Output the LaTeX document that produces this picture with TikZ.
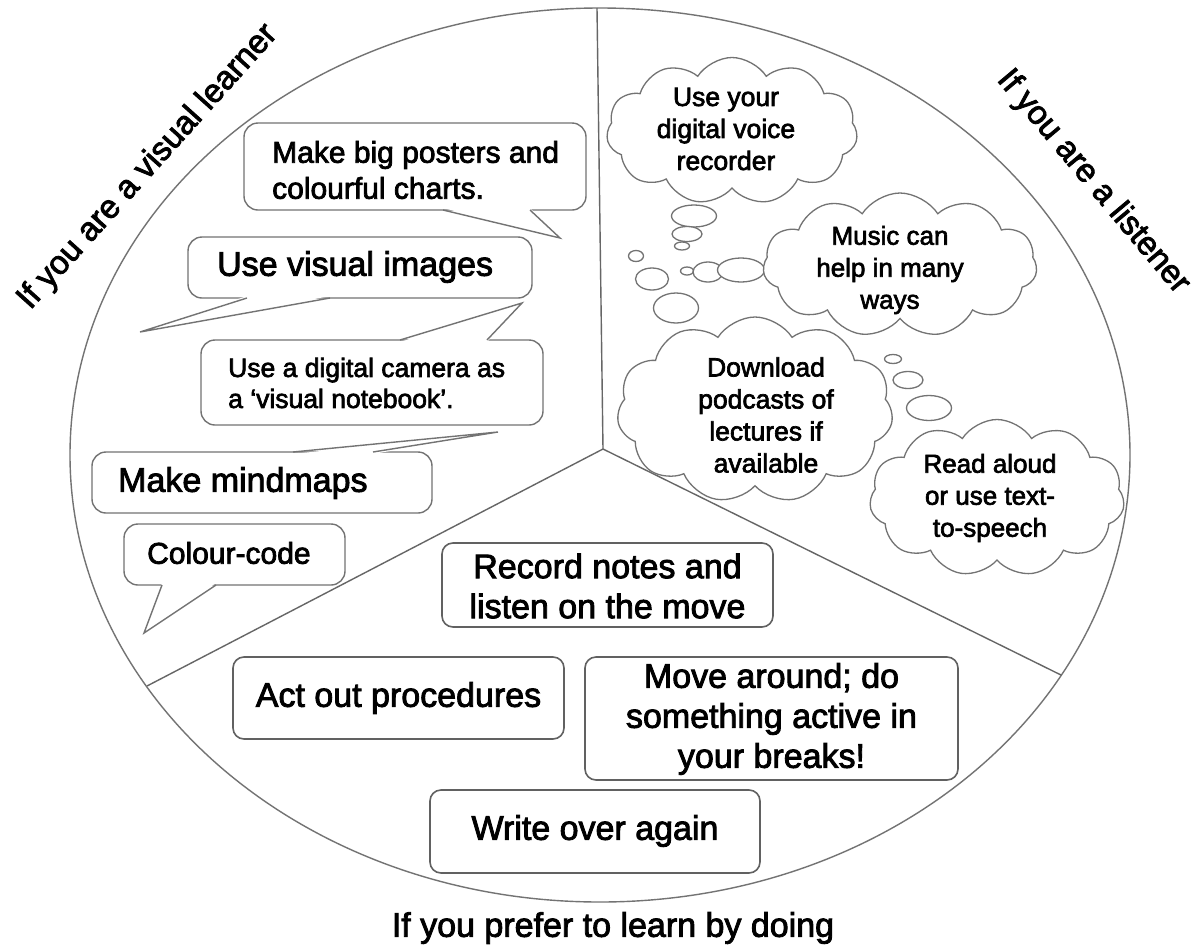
\documentclass[tikz,border=0pt]{standalone}
\usepackage{fontspec}
\setmainfont{Liberation Sans}[FakeBold=2.5]
\usetikzlibrary{shapes.symbols}
\newcommand\myfs[2]{\fontsize{#1}{#2}\selectfont}
\tikzset{
  outl/.style={draw=black!55, line width=1.4pt},
  divl/.style={draw=black!60, line width=1.4pt},
  bub/.style={outl, fill=white, rounded corners=14pt},
  rbox/.style={draw=black!62, line width=1.6pt, rounded corners=11pt, fill=white},
  txt/.style={inner sep=0pt, text=black},
  cld/.style={cloud, cloud puffs=11, cloud puff arc=115, draw=black!55, line width=1.3pt,
              fill=white, inner sep=0pt},
  ctxt/.style={inner sep=0pt, text=black, align=center},
  lbl/.style={inner sep=0pt, text=black, font=\myfs{33}{40}},
  puff/.style={draw=black!55, line width=1.3pt, fill=white}
}
\newcommand\bubbot[7]{%
  \draw[bub] (#1,#2) rectangle (#3,#4);
  \fill[white] (#5,#4-2) -- #7 -- (#6,#4-2) -- cycle;
  \draw[outl] (#5,#4) -- #7 -- (#6,#4);
}
\newcommand\bubtop[7]{%
  \draw[bub] (#1,#2) rectangle (#3,#4);
  \fill[white] (#5,#2+2) -- #7 -- (#6,#2+2) -- cycle;
  \draw[outl] (#5,#2) -- #7 -- (#6,#2);
}
\begin{document}
\begin{tikzpicture}[x=1pt,y=-1pt]
\useasboundingbox (0,0) rectangle (1203,946);
\fill[white] (0,0) rectangle (1203,946);

% pie
\draw[outl] (600,455) ellipse [x radius=530pt, y radius=447pt];
\coordinate (hub) at (603,449);
\coordinate (topp) at (597,8);
\coordinate (lft) at (147,686);
\coordinate (rgt) at (1061,675);
\draw[divl] (topp) -- (hub) -- (lft);
\draw[divl] (hub) -- (rgt);

% labels
\node[lbl, rotate=48] (vis) at (148,167) {If you are a visual learner};
\node[lbl, rotate=-50] (lis) at (1093,182) {If you are a listener};
\node[lbl, font=\myfs{34}{40}] (doing) at (613,928) {If you prefer to learn by doing};

% speech bubbles (visual)
\bubbot{244}{123}{586}{210}{443}{530}{(560,238)}
\node[txt, anchor=west, align=left, font=\myfs{30}{36}] (t1) at (272,170) {Make big posters and\\colourful charts.};

\bubbot{188}{237}{532}{298}{247}{330}{(140,332)}
\node[txt, anchor=west, font=\myfs{34}{40}] (t2) at (217,267) {Use visual images};

\bubtop{201}{340}{543}{425}{400}{487}{(522,303)}
\node[txt, anchor=west, align=left, font=\myfs{26.5}{31}] (t3) at (228,383) {Use a digital camera as\\a ‘visual notebook’.};

\bubtop{92}{452}{432}{513}{293}{373}{(498,432)}
\node[txt, anchor=west, font=\myfs{34}{40}] (t4) at (118,483) {Make mindmaps};

\bubbot{124}{524}{345}{585}{162}{216}{(144,633)}
\node[txt, anchor=west, font=\myfs{30}{36}] (t5) at (147,553) {Colour-code};

% doing boxes
\draw[rbox] (442,543) rectangle (773,627);
\node[txt, align=center, font=\myfs{34}{40}] (r1) at (607.5,586) {Record notes and\\listen on the move};
\draw[rbox] (233,657) rectangle (564,739);
\node[txt, font=\myfs{34}{40}] (r2) at (398.5,698) {Act out procedures};
\draw[rbox] (585,657) rectangle (958,780);
\node[txt, align=center, font=\myfs{34}{40}] (r3) at (771.5,719) {Move around; do\\something active in\\your breaks!};
\draw[rbox] (430,790) rectangle (760,873);
\node[txt, font=\myfs{34}{40}] (r4) at (595,831) {Write over again};

% thought bubbles
\node[cld, minimum width=251pt, minimum height=147pt] (c1) at (732,131) {};
\node[ctxt, font=\myfs{26.5}{32}] (c1t) at (726,129) {Use your\\digital voice\\recorder};
\draw[puff] (694,216) ellipse [x radius=22.5pt, y radius=11pt];
\draw[puff] (687,234) ellipse [x radius=15pt, y radius=7.5pt];
\draw[puff] (682,246) ellipse [x radius=7.5pt, y radius=4pt];

\draw[puff] (636,256) ellipse [x radius=7.5pt, y radius=5.5pt];
\draw[puff] (652,279) ellipse [x radius=16.5pt, y radius=11pt];
\draw[puff] (676,308) ellipse [x radius=22.5pt, y radius=15pt];

\draw[puff] (687,271) ellipse [x radius=6.5pt, y radius=4pt];
\draw[puff] (708,272) ellipse [x radius=15pt, y radius=10pt];
\draw[puff] (741,270) ellipse [x radius=23.5pt, y radius=12pt];

\node[cld, minimum width=274pt, minimum height=144pt] (c2) at (900,265) {};
\node[ctxt, font=\myfs{26}{32}] (c2t) at (890,270) {Music can\\help in many\\ways};

\node[cld, minimum width=276pt, minimum height=186pt] (c3) at (755,410) {};
\node[ctxt, font=\myfs{26.5}{32}] (c3t) at (766,415) {Download\\podcasts of\\lectures if\\available};

\draw[puff] (893,359) ellipse [x radius=8.5pt, y radius=4.5pt];
\draw[puff] (908,380) ellipse [x radius=15pt, y radius=8.5pt];
\draw[puff] (929,408) ellipse [x radius=22.5pt, y radius=12.5pt];

\node[cld, minimum width=255pt, minimum height=157pt] (c4) at (997,498) {};
\node[ctxt, font=\myfs{26}{32}] (c4t) at (990,498) {Read aloud\\or use text-\\to-speech};
\end{tikzpicture}
\end{document}
